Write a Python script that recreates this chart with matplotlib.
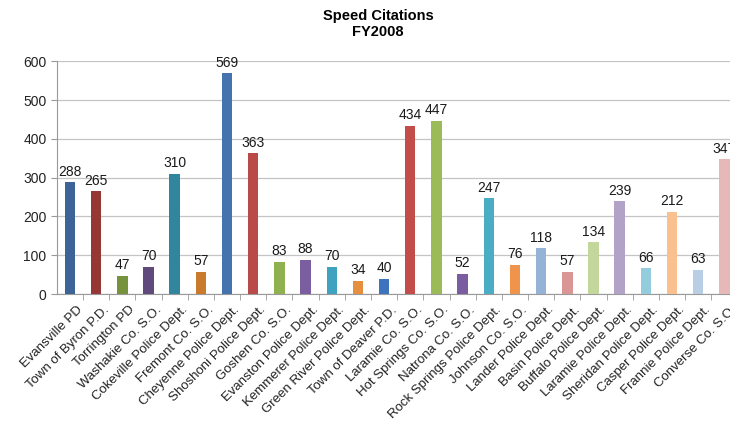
import matplotlib

matplotlib.use("Agg")
import matplotlib.pyplot as plt

plt.rcParams["font.family"] = ["Liberation Sans", "DejaVu Sans"]

agencies = [
    "Evansville PD", "Town of Byron P.D.", "Torrington PD", "Washakie Co. S.O.",
    "Cokeville Police Dept.", "Fremont Co. S.O.", "Cheyenne Police Dept.",
    "Shoshoni Police Dept.", "Goshen Co. S.O.", "Evanston Police Dept.",
    "Kemmerer Police Dept.", "Green River Police Dept.", "Town of Deaver P.D.",
    "Laramie Co. S.O.", "Hot Springs Co. S.O.", "Natrona Co. S.O.",
    "Rock Springs Police Dept.", "Johnson Co. S.O.", "Lander Police Dept.",
    "Basin Police Dept.", "Buffalo Police Dept.", "Laramie Police Dept.",
    "Sheridan Police Dept.", "Casper Police Dept.", "Frannie Police Dept.",
    "Converse Co. S.O.",
]
citations = [288, 265, 47, 70, 310, 57, 569, 363, 83, 88, 70, 34, 40,
             434, 447, 52, 247, 76, 118, 57, 134, 239, 66, 212, 63, 347]
bar_colors = [
    "#3C6497", "#953735", "#76923C", "#604A7B", "#31859C", "#C97A2D",
    "#4573AE", "#BA4A47", "#8FB150", "#7B5EA0", "#3FA3C0", "#E58F3F",
    "#3E74BD", "#C24D4A", "#9BBB59", "#7A5CA0", "#4BACC6", "#F0944C",
    "#95B3D7", "#D99694", "#C3D69B", "#B3A2C7", "#93CDDD", "#FAC090",
    "#B9CDE5", "#E6B9B8",
]

fig = plt.figure(figsize=(7.3, 4.25), dpi=100)
# axes runs past the right edge, like the cropped original
ax = fig.add_axes([0.078, 0.308, 0.968, 0.548])

x = list(range(len(agencies)))
ax.bar(x, citations, width=0.4, color=bar_colors, zorder=3)
for xi, v in zip(x, citations):
    ax.text(xi, v + 9, str(v), ha="center", va="bottom", fontsize=10, color="#1a1a1a")

ax.set_xlim(-0.5, len(agencies) + 0.5)
ax.set_ylim(0, 600)
ax.set_yticks(range(0, 601, 100))
ax.tick_params(axis="y", labelsize=10, length=4, color="#999999", labelcolor="#222222")
ax.grid(axis="y", color="#C4C4C4", linewidth=0.9, zorder=0)

ax.set_xticks([i + 0.25 for i in x])
ax.set_xticklabels(agencies, rotation=45, ha="right", rotation_mode="anchor",
                   fontsize=9.5, color="#222222")
ax.tick_params(axis="x", which="major", length=0, pad=7)
ax.set_xticks([i + 0.5 for i in x], minor=True)
ax.tick_params(axis="x", which="minor", length=4, color="#999999")

for side in ("top", "right"):
    ax.spines[side].set_visible(False)
for side in ("left", "bottom"):
    ax.spines[side].set_color("#999999")

fig.text(0.518, 0.978, "Speed Citations\nFY2008", ha="center", va="top",
         fontsize=10.5, fontweight="bold", linespacing=1.15)

fig.savefig("out.png")
